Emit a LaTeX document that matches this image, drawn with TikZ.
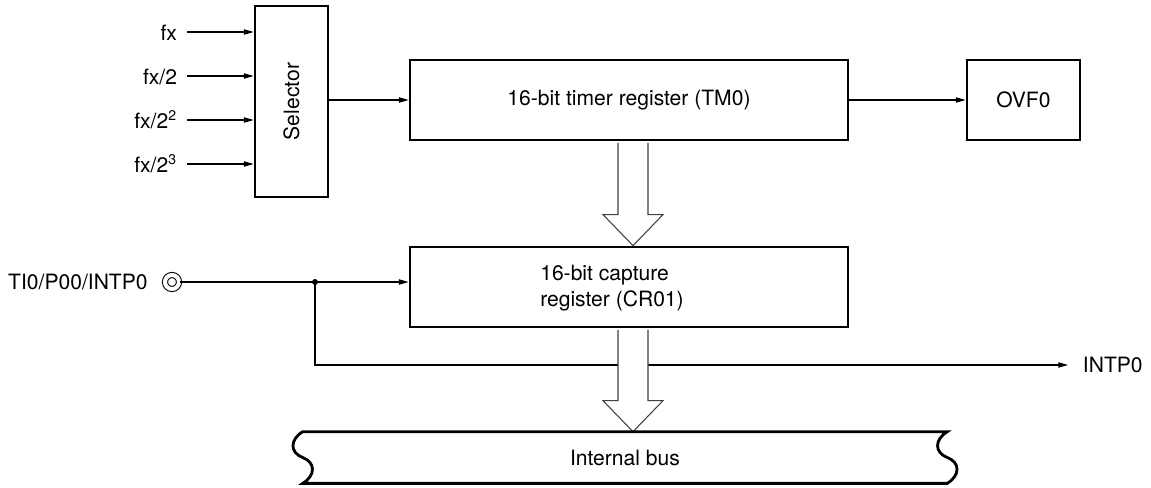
\documentclass[tikz,border=0pt]{standalone}
\usepackage{fontspec}
\setmainfont{TeX Gyre Heros}
\usetikzlibrary{arrows.meta, calc}
\begin{document}
\begin{tikzpicture}[x = 0.02cm, y = -0.02cm, font = \fontsize{12}{14.4}\selectfont,
  >={Triangle[length = 5.5pt, width = 3pt]},
  reg/.style = {draw, line width = 1.6pt, inner sep = 0pt},
  wire/.style = {line width = 0.6pt},
  hollow/.style = {draw = black!75, line width = 0.6pt, fill = white},
  lbl/.style = {inner sep = 0pt}]
\useasboundingbox (0,0) rectangle (1151,487);
\node (sel) [reg, minimum width = 1.46cm, minimum height = 3.82cm] at (291.5,101.5) {};
\node (seltext) [rotate = 90] at (sel.center) {Selector};
\node (tm) [reg, minimum width = 8.76cm, minimum height = 1.6cm] at (629,100) {16-bit timer register (TM0)};
\node (ovf) [reg, minimum width = 2.26cm, minimum height = 1.6cm] at (1023.5,100) {OVF0};
\node (cr) [reg, minimum width = 8.76cm, minimum height = 1.6cm] at (629,287) {};
\node (crtext) [align = left] at (612,288) {16-bit capture\\register (CR01)};
\node (bus) [inner sep = 0pt, minimum width = 12.88cm, minimum height = 1.02cm] at (625,457.5) {Internal bus};
\foreach \n/\t/\y in {f0/{fx}/32, f1/{fx\slash 2}/76, f2/{fx\slash 2\textsuperscript{2}}/120, f3/{fx\slash 2\textsuperscript{3}}/164} {
  \node (\n) [lbl, anchor = base east, outer xsep = 5.7pt] at (187,\y+8) {\t};
  \draw [wire, ->] (\n.east |- 0,\y) -- (sel.west |- 0,\y);
}
\node (ti) [circle, draw, wire, double, double distance = 2.3pt, minimum size = 0.28cm, inner sep = 0pt] at (172,282) {};
\node (tilbl) [lbl, anchor = east] at (148,282) {TI0/P00/INTP0};
\coordinate (jn) at (315,282);
\node (intp) [lbl, anchor = west, outer xsep = 8.5pt] at (1068,365) {INTP0};
\draw [wire, ->] (ti.east) -- (ti.east -| cr.west);
\fill (jn) circle (1.7pt);
\draw [wire, ->] (jn) |- (intp.west);
\draw [wire, ->] (sel.east |- tm.west) -- (tm.west);
\draw [wire, ->] (tm) -- (ovf);
\foreach \a/\b in {tm/cr, cr/bus} {
  \coordinate (top) at ($(\a.south) + (4,1.5)$);
  \coordinate (tip) at (top |- \b.north);
  \draw [hollow] ($(top) + (-15,0)$) -- ($(tip) + (-15,-31)$) -- ++(-15,0) -- (tip) -- ++(30,-31) -- ++(-15,0) -- ($(top) + (15,0)$);
}
\draw [line width = 1.6pt] (bus.north west) -- (bus.north east)
  .. controls +(-13,8) and +(-13,-5) .. (bus.east)
  .. controls +(13,5) and +(13,-8) .. (bus.south east)
  -- (bus.south west)
  .. controls +(13,-8) and +(13,5) .. (bus.west)
  .. controls +(-13,-5) and +(-13,8) .. (bus.north west) -- cycle;
\end{tikzpicture}
\end{document}
